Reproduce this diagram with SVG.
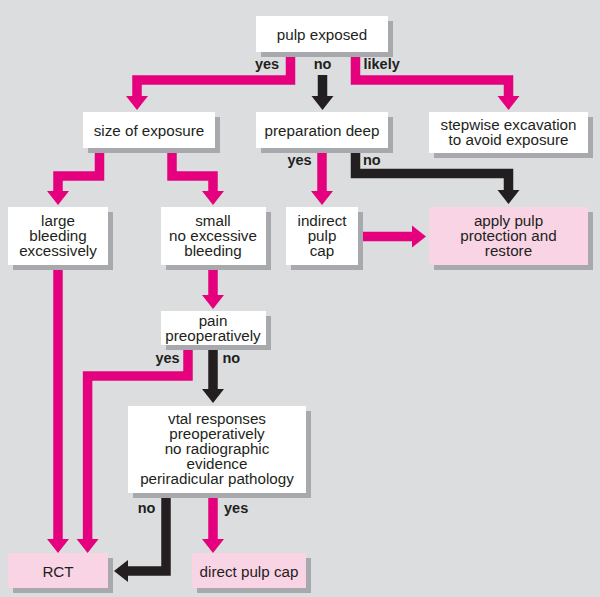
<svg xmlns="http://www.w3.org/2000/svg" width="600" height="597" viewBox="0 0 600 597">
<style>
.bg{fill:#dcdddf}
.sh{fill:#a7a9ac}
.bx{fill:#ffffff}
.pk{fill:#f9d4e5}
.t{font-family:"Liberation Sans",Arial,sans-serif;font-size:15.2px;fill:#231f20;text-anchor:middle}
.lb{font-family:"Liberation Sans",Arial,sans-serif;font-size:14.5px;font-weight:bold;fill:#231f20}
.cp{fill:none;stroke:#e5007d;stroke-width:9.5;stroke-linejoin:miter}
.ck{fill:none;stroke:#231f20;stroke-width:9.5;stroke-linejoin:miter}
</style>
<defs>
<marker id="ap" markerUnits="userSpaceOnUse" markerWidth="15" markerHeight="22" refX="0" refY="11" orient="auto" overflow="visible"><path d="M0,0 L14,11 L0,22 z" fill="#e5007d"/></marker>
<marker id="ak" markerUnits="userSpaceOnUse" markerWidth="15" markerHeight="22" refX="0" refY="11" orient="auto" overflow="visible"><path d="M0,0 L14,11 L0,22 z" fill="#231f20"/></marker>
</defs>
<rect class="bg" x="0" y="0" width="600" height="597"/>

<g id="connectors">
<path class="cp" d="M290.5,52 V80 H137 V96" marker-end="url(#ap)"/>
<path class="ck" d="M322.5,52 V57 M322.5,75 V96" marker-end="url(#ak)"/>
<path class="cp" d="M355.5,52 V80 H508.5 V96" marker-end="url(#ap)"/>
<path class="cp" d="M99.5,148 V176 H58 V191" marker-end="url(#ap)"/>
<path class="cp" d="M172,148 V176 H213 V191" marker-end="url(#ap)"/>
<path class="cp" d="M322,148 V191" marker-end="url(#ap)"/>
<path class="ck" d="M355.5,148 V173.5 H508.5 V190" marker-end="url(#ak)"/>
<path class="cp" d="M359,236.5 H412" marker-end="url(#ap)"/>
<path class="cp" d="M58,265 V539" marker-end="url(#ap)"/>
<path class="cp" d="M213,265 V295" marker-end="url(#ap)"/>
<path class="cp" d="M188,345 V376 H87.6 V539" marker-end="url(#ap)"/>
<path class="ck" d="M213,345 V389" marker-end="url(#ak)"/>
<path class="ck" d="M166,493 V571 H128" marker-end="url(#ak)"/>
<path class="cp" d="M213,493 V539" marker-end="url(#ap)"/>
<text class="lb" x="267" y="69" text-anchor="middle">yes</text>
<text class="lb" x="322.5" y="69" text-anchor="middle">no</text>
<text class="lb" x="363.5" y="69">likely</text>
<text class="lb" x="299.5" y="165" text-anchor="middle">yes</text>
<text class="lb" x="363" y="165">no</text>
<text class="lb" x="167.5" y="363" text-anchor="middle">yes</text>
<text class="lb" x="222.5" y="363">no</text>
<text class="lb" x="146.5" y="513" text-anchor="middle">no</text>
<text class="lb" x="224" y="513">yes</text>
</g>

<g id="pulp-exposed">
<rect class="sh" x="261" y="21" width="132" height="36"/>
<rect class="bx" x="256" y="16" width="132" height="36"/>
<text class="t" x="322" y="39.5">pulp exposed</text>
</g>
<g id="size-of-exposure">
<rect class="sh" x="88" y="117" width="132" height="36"/>
<rect class="bx" x="83" y="112" width="132" height="36"/>
<text class="t" x="149" y="135.5">size of exposure</text>
</g>
<g id="preparation-deep">
<rect class="sh" x="261" y="117" width="132" height="36"/>
<rect class="bx" x="256" y="112" width="132" height="36"/>
<text class="t" x="322" y="135.5">preparation deep</text>
</g>
<g id="stepwise">
<rect class="sh" x="434" y="117" width="159" height="41"/>
<rect class="bx" x="429" y="112" width="159" height="41"/>
<text class="t" x="508.5" y="130.3">stepwise excavation</text>
<text class="t" x="508.5" y="145.3">to avoid exposure</text>
</g>
<g id="large">
<rect class="sh" x="13" y="212" width="100" height="58"/>
<rect class="bx" x="8" y="207" width="100" height="58"/>
<text class="t" x="58" y="226.3">large</text>
<text class="t" x="58" y="241.3">bleeding</text>
<text class="t" x="58" y="256.3">excessively</text>
</g>
<g id="small">
<rect class="sh" x="166" y="212" width="105" height="58"/>
<rect class="bx" x="161" y="207" width="105" height="58"/>
<text class="t" x="213" y="226.3">small</text>
<text class="t" x="213" y="241.3">no excessive</text>
<text class="t" x="213" y="256.3">bleeding</text>
</g>
<g id="indirect">
<rect class="sh" x="291" y="212" width="72" height="58"/>
<rect class="bx" x="286" y="207" width="72" height="58"/>
<text class="t" x="322" y="226.3">indirect</text>
<text class="t" x="322" y="241.3">pulp</text>
<text class="t" x="322" y="256.3">cap</text>
</g>
<g id="apply">
<rect class="sh" x="434" y="212" width="159" height="58"/>
<rect class="pk" x="429" y="207" width="159" height="58"/>
<text class="t" x="508.5" y="226.3">apply pulp</text>
<text class="t" x="508.5" y="241.3">protection and</text>
<text class="t" x="508.5" y="256.3">restore</text>
</g>
<g id="pain">
<rect class="sh" x="166" y="316" width="105" height="34"/>
<rect class="bx" x="161" y="311" width="105" height="34"/>
<text class="t" x="213" y="326.3">pain</text>
<text class="t" x="213" y="341.3">preoperatively</text>
</g>
<g id="vital">
<rect class="sh" x="133" y="411" width="178" height="87"/>
<rect class="bx" x="128" y="406" width="178" height="87"/>
<text class="t" x="217" y="423.5">vtal responses</text>
<text class="t" x="217" y="438.5">preoperatively</text>
<text class="t" x="217" y="453.5">no radiographic</text>
<text class="t" x="217" y="468.5">evidence</text>
<text class="t" x="217" y="483.5">periradicular pathology</text>
</g>
<g id="rct">
<rect class="sh" x="13" y="558" width="100" height="35"/>
<rect class="pk" x="8" y="553" width="100" height="35"/>
<text class="t" x="58" y="577">RCT</text>
</g>
<g id="direct">
<rect class="sh" x="197" y="558" width="114" height="35"/>
<rect class="pk" x="192" y="553" width="114" height="35"/>
<text class="t" x="249" y="577">direct pulp cap</text>
</g>
</svg>
